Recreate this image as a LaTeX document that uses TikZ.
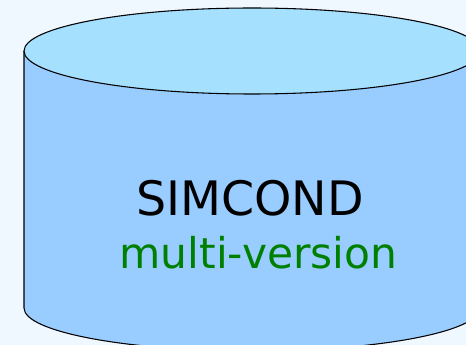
\documentclass[tikz,border=0pt]{standalone}
\usepackage{fontspec}
\setmainfont{DejaVu Sans}
\definecolor{bgc}{HTML}{F0F8FF}
\definecolor{topc}{HTML}{A6E0FF}
\definecolor{bodyc}{HTML}{99CCFF}
\definecolor{greenc}{HTML}{008000}
\tikzset{outline/.style={draw=black,line width=0.8pt}}
\begin{document}
\begin{tikzpicture}[x=0.75pt,y=-0.75pt]
\useasboundingbox (0,0) rectangle (466,345);
\fill[bgc] (0,0) rectangle (466,345);
\begin{scope}
\clip (0,0) rectangle (466,345);
% body
\fill[bodyc] (24,51) -- (24,308) arc[start angle=180,end angle=0,x radius=228,y radius=43] -- (480,51) -- cycle;
\draw[outline] (24,51) -- (24,308) arc[start angle=180,end angle=0,x radius=228,y radius=43] -- (480,51);
% top
\draw[outline,fill=topc] (252,51) ellipse[x radius=228,y radius=43];
\end{scope}
\node[anchor=base,font=\fontsize{35.6}{40}\selectfont,text=black,inner sep=0pt] (t1) at (250,215) {SIMCOND};
\node[anchor=base,font=\fontsize{31.8}{36}\selectfont,text=greenc,inner sep=0pt] (t2) at (258.5,268) {multi-version};
\end{tikzpicture}
\end{document}
